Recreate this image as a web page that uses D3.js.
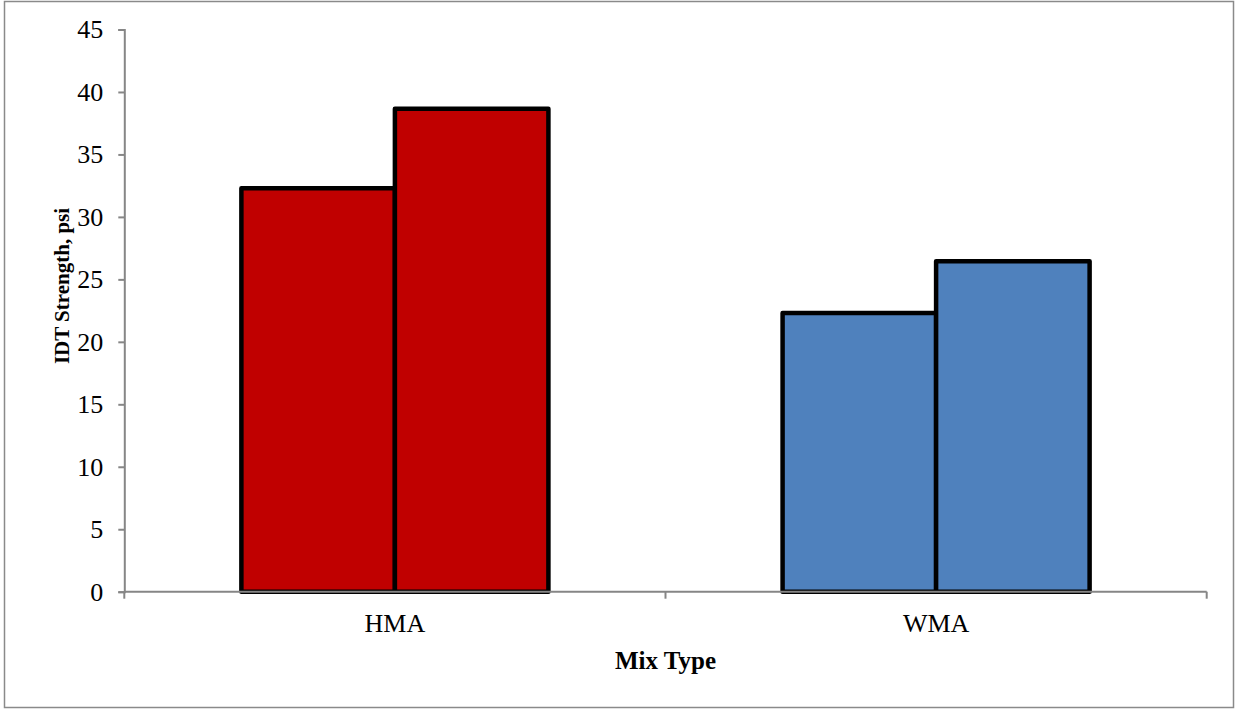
<!DOCTYPE html>
<html>
<head>
<meta charset="utf-8">
<script src="https://cdn.jsdelivr.net/npm/d3@7"></script>
<style>
  html, body { margin: 0; padding: 0; background: #fff; }
  svg { display: block; }
</style>
</head>
<body>
<svg id="chart" width="1236" height="710"></svg>
<script>
// Mix types on the x axis, two specimens per mix
const categories = ["HMA", "WMA"];
const seriesKeys = ["s1", "s2"];
const hmaValues = [32.3, 38.65];
const wmaValues = [22.3, 26.45];
const yTicks = [0, 5, 10, 15, 20, 25, 30, 35, 40, 45];
const fillColors = ["#C00000", "#4F81BD"];

const valuesByCategory = [hmaValues, wmaValues];
const rows = categories.map((c, i) => ({
  category: c,
  color: fillColors[i],
  bars: seriesKeys.map((k, j) => ({ key: k, value: valuesByCategory[i][j] }))
}));

const FONT = "'Liberation Serif', 'Times New Roman', Times, serif";
const svg = d3.select("#chart");
const plotLeft = 124.3, plotRight = 1206.7, plotTop = 29.5, plotBottom = 591.7;
const axisColor = "#868686";

// outer chart border
svg.append("rect")
  .attr("x", 4.5).attr("y", 1.5)
  .attr("width", 1229).attr("height", 706)
  .attr("fill", "none")
  .attr("stroke", "#8a8a8a")
  .attr("stroke-width", 1.5);

const y = d3.scaleLinear().domain([0, 45]).range([plotBottom, plotTop]);
const x0 = d3.scaleBand().domain(categories).range([plotLeft, plotRight]).paddingInner(0).paddingOuter(0);
const x1 = d3.scaleBand().domain(seriesKeys).range([0, x0.bandwidth()]).paddingInner(0).paddingOuter(0.7627);

// y axis
const yAxis = svg.append("g")
  .attr("transform", `translate(${plotLeft},0)`)
  .call(d3.axisLeft(y).tickValues(yTicks).tickSize(6).tickPadding(15).tickFormat(d3.format("d")));
yAxis.select(".domain").attr("stroke", axisColor).attr("stroke-width", 2);
yAxis.selectAll(".tick line").attr("stroke", axisColor).attr("stroke-width", 2);
yAxis.selectAll(".tick text")
  .style("font-family", FONT).style("font-size", "26px").attr("fill", "#000");

// bars
const groups = svg.append("g").selectAll("g")
  .data(rows)
  .join("g")
  .attr("transform", d => `translate(${x0(d.category)},0)`);

groups.selectAll("rect")
  .data(d => d.bars.map(b => ({ ...b, color: d.color })))
  .join("rect")
  .attr("x", d => x1(d.key))
  .attr("y", d => y(d.value))
  .attr("width", x1.bandwidth())
  .attr("height", d => y(0) - y(d.value))
  .attr("fill", d => d.color)
  .attr("stroke", "#000")
  .attr("stroke-width", 4.5)
  .attr("stroke-linejoin", "round");

// x axis: labels centred under each mix, tick marks at band edges
const xAxis = svg.append("g")
  .attr("transform", `translate(0,${plotBottom})`)
  .call(d3.axisBottom(x0).tickSize(0).tickPadding(21.5));
xAxis.select(".domain").remove();
xAxis.selectAll(".tick text")
  .style("font-family", FONT).style("font-size", "26px").attr("fill", "#000");

const edges = [x0.range()[0], ...categories.slice(1).map(c => x0(c)), x0.range()[1]];
svg.append("line")
  .attr("x1", plotLeft).attr("x2", plotRight)
  .attr("y1", plotBottom).attr("y2", plotBottom)
  .attr("stroke", axisColor).attr("stroke-width", 2);
svg.append("g").selectAll("line")
  .data(edges)
  .join("line")
  .attr("x1", d => d).attr("x2", d => d)
  .attr("y1", plotBottom).attr("y2", plotBottom + 7)
  .attr("stroke", axisColor).attr("stroke-width", 2);

// axis titles
svg.append("text")
  .attr("x", (plotLeft + plotRight) / 2)
  .attr("y", 668.5)
  .attr("text-anchor", "middle")
  .style("font-family", FONT).style("font-size", "25px").style("font-weight", "bold")
  .text("Mix Type");

svg.append("text")
  .attr("transform", `translate(69,286) rotate(-90)`)
  .attr("text-anchor", "middle")
  .style("font-family", FONT).style("font-size", "21px").style("font-weight", "bold")
  .text("IDT Strength, psi");
</script>
</body>
</html>
